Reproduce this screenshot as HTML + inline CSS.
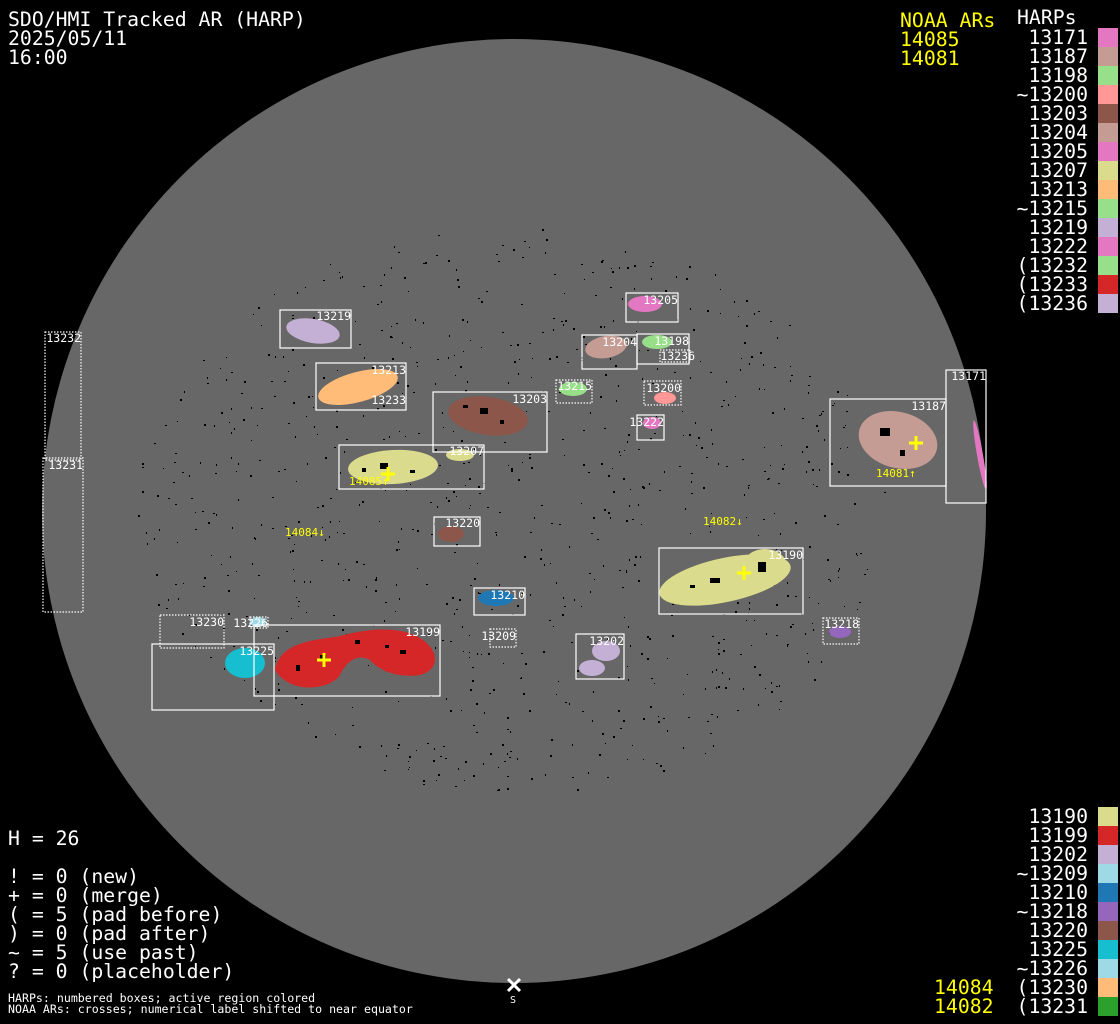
<!DOCTYPE html>
<html><head><meta charset="utf-8"><style>
html,body{margin:0;padding:0;background:#000;width:1120px;height:1024px;overflow:hidden}
svg{display:block}
text{font-family:"DejaVu Sans Mono","Liberation Mono",monospace}
.big{font-size:19.8px;fill:#fff}
.y{fill:#ffff00}
.lb{font-size:11.5px;fill:#fff;text-anchor:end}
.yl{font-size:11px;fill:#ffff00}
.bx{fill:none;stroke:#fff;stroke-width:1.2}
.dt{fill:none;stroke:#fff;stroke-width:1.2;stroke-dasharray:1.5 1.5}
.r{text-anchor:end}
.k{fill:#000}
</style></head><body>
<svg width="1120" height="1024" viewBox="0 0 1120 1024" xmlns="http://www.w3.org/2000/svg">
<rect width="1120" height="1024" fill="#000"/>
<circle cx="514" cy="511" r="472" fill="#676767"/>
<g id="specks" class="k"></g>

<!-- regions -->
<ellipse cx="313" cy="331" rx="27" ry="12" fill="#c5b0d5" transform="rotate(10 313 331)"/>
<ellipse cx="358" cy="387" rx="41" ry="15" fill="#ffbb78" transform="rotate(-15 358 387)"/>
<ellipse cx="488" cy="416" rx="40" ry="19" fill="#8c564b" transform="rotate(8 488 416)"/>
<ellipse cx="393" cy="467" rx="45" ry="17" fill="#dbdb8d" transform="rotate(-3 393 467)"/>
<ellipse cx="460" cy="455" rx="14" ry="6" fill="#dbdb8d"/>
<ellipse cx="573" cy="389" rx="14" ry="7" fill="#98df8a"/>
<ellipse cx="645" cy="304" rx="17" ry="8" fill="#e377c2"/>
<ellipse cx="606" cy="347" rx="21" ry="11" fill="#c49c94" transform="rotate(-10 606 347)"/>
<ellipse cx="657" cy="342" rx="15" ry="7" fill="#98df8a"/>
<ellipse cx="665" cy="398" rx="11" ry="6" fill="#ff9896"/>
<ellipse cx="652" cy="423" rx="9" ry="6" fill="#e377c2"/>
<ellipse cx="898" cy="440" rx="40" ry="28" fill="#c49c94" transform="rotate(15 898 440)"/>
<ellipse cx="980" cy="455" rx="3" ry="35" fill="#e377c2" transform="rotate(-10 980 455)"/>
<ellipse cx="451" cy="534" rx="13" ry="8" fill="#8c564b"/>
<ellipse cx="496" cy="598" rx="18" ry="8" fill="#1f77b4"/>
<ellipse cx="606" cy="651" rx="14" ry="10" fill="#c5b0d5"/>
<ellipse cx="592" cy="668" rx="13" ry="8" fill="#c5b0d5"/>
<ellipse cx="725" cy="580" rx="67" ry="22" fill="#dbdb8d" transform="rotate(-12 725 580)"/>
<ellipse cx="765" cy="566" rx="22" ry="17" fill="#dbdb8d"/>
<ellipse cx="840" cy="632" rx="11" ry="6" fill="#9467bd"/>
<ellipse cx="245" cy="663" rx="20" ry="15" fill="#17becf"/>
<ellipse cx="258" cy="622" rx="8" ry="5" fill="#9edae5"/>
<path d="M275 670 C280 640 320 640 340 636 C370 628 400 626 420 638 C440 650 440 670 420 675 C400 678 380 672 370 660 C355 652 345 665 340 675 C330 690 290 695 275 670 Z" fill="#d62728"/>
<g class="k">
<rect x="380" y="463" width="8" height="6"/><rect x="362" y="468" width="4" height="4"/><rect x="410" y="470" width="5" height="3"/>
<rect x="480" y="408" width="8" height="6"/><rect x="463" y="405" width="5" height="3"/><rect x="500" y="420" width="4" height="4"/>
<rect x="710" y="578" width="10" height="5"/><rect x="758" y="562" width="8" height="10"/><rect x="690" y="585" width="5" height="3"/>
<rect x="880" y="428" width="10" height="8"/><rect x="900" y="450" width="5" height="6"/>
<rect x="320" y="655" width="6" height="5"/><rect x="355" y="640" width="5" height="4"/><rect x="400" y="650" width="6" height="4"/>
<rect x="296" y="665" width="4" height="6"/><rect x="385" y="645" width="4" height="3"/>
</g>

<!-- boxes -->
<rect class="bx" x="280" y="310" width="71" height="38"/>
<rect class="bx" x="316" y="363" width="90" height="47"/>
<rect class="bx" x="433" y="392" width="114" height="60"/>
<rect class="bx" x="339" y="445" width="145" height="44"/>
<rect class="dt" x="556" y="380" width="36" height="23"/>
<rect class="bx" x="626" y="293" width="52" height="29"/>
<rect class="bx" x="582" y="335" width="55" height="34"/>
<rect class="bx" x="637" y="334" width="52" height="30"/>
<rect class="dt" x="660" y="350" width="30" height="12"/>
<rect class="dt" x="644" y="381" width="37" height="24"/>
<rect class="bx" x="637" y="415" width="27" height="25"/>
<rect class="bx" x="830" y="399" width="116" height="87"/>
<rect class="bx" x="946" y="370" width="40" height="133"/>
<rect class="dt" x="45" y="332" width="36" height="128"/>
<rect class="dt" x="43" y="458" width="40" height="154"/>
<rect class="bx" x="434" y="517" width="46" height="29"/>
<rect class="bx" x="474" y="588" width="51" height="27"/>
<rect class="dt" x="490" y="629" width="26" height="18"/>
<rect class="bx" x="576" y="634" width="48" height="45"/>
<rect class="bx" x="659" y="548" width="144" height="66"/>
<rect class="dt" x="823" y="618" width="36" height="26"/>
<rect class="dt" x="160" y="615" width="64" height="33"/>
<rect class="dt" x="250" y="617" width="18" height="11"/>
<rect class="bx" x="152" y="644" width="122" height="66"/>
<rect class="bx" x="254" y="625" width="186" height="71"/>

<text class="lb" x="351" y="320">13219</text>
<text class="lb" x="406" y="374">13213</text>
<text class="lb" x="406" y="404">13233</text>
<text class="lb" x="547" y="403">13203</text>
<text class="lb" x="484" y="455">13207</text>
<text class="lb" x="592" y="390">13215</text>
<text class="lb" x="678" y="304">13205</text>
<text class="lb" x="637" y="346">13204</text>
<text class="lb" x="689" y="345">13198</text>
<text class="lb" x="695" y="360">13236</text>
<text class="lb" x="681" y="392">13200</text>
<text class="lb" x="664" y="426">13222</text>
<text class="lb" x="946" y="410">13187</text>
<text class="lb" x="986" y="380">13171</text>
<text class="lb" x="81" y="342">13232</text>
<text class="lb" x="83" y="469">13231</text>
<text class="lb" x="480" y="527">13220</text>
<text class="lb" x="525" y="599">13210</text>
<text class="lb" x="516" y="640">13209</text>
<text class="lb" x="624" y="645">13202</text>
<text class="lb" x="803" y="559">13190</text>
<text class="lb" x="859" y="628">13218</text>
<text class="lb" x="224" y="626">13230</text>
<text class="lb" x="268" y="627">13226</text>
<text class="lb" x="274" y="655">13225</text>
<text class="lb" x="440" y="636">13199</text>

<g stroke="#ffff00" stroke-width="3">
<path d="M381 474h14M388 467v14"/>
<path d="M909 443h14M916 436v14"/>
<path d="M737 573h14M744 566v14"/>
<path d="M317 660h14M324 653v14"/>
</g>
<text class="yl" x="285" y="536">14084↓</text>
<text class="yl" x="703" y="525">14082↓</text>
<text class="yl" x="876" y="477">14081↑</text>
<text class="yl" x="349" y="485">14085↑</text>

<path d="M508 979l12 12M520 979l-12 12" stroke="#fff" stroke-width="3"/>
<text x="513" y="1003" font-size="10" fill="#fff" text-anchor="middle">S</text>

<text class="big" x="8" y="26">SDO/HMI Tracked AR (HARP)</text>
<text class="big" x="8" y="45">2025/05/11</text>
<text class="big" x="8" y="64">16:00</text>
<text class="big y" x="900" y="27">NOAA ARs</text>
<text class="big y" x="900" y="46">14085</text>
<text class="big y" x="900" y="65">14081</text>
<text class="big" x="1017" y="24">HARPs</text>

<g class="big r">
<text x="1088" y="44">13171</text><text x="1088" y="63">13187</text><text x="1088" y="82">13198</text>
<text x="1088" y="101">~13200</text><text x="1088" y="120">13203</text><text x="1088" y="139">13204</text>
<text x="1088" y="158">13205</text><text x="1088" y="177">13207</text><text x="1088" y="196">13213</text>
<text x="1088" y="215">~13215</text><text x="1088" y="234">13219</text><text x="1088" y="253">13222</text>
<text x="1088" y="272">(13232</text><text x="1088" y="291">(13233</text><text x="1088" y="310">(13236</text>
</g>
<g>
<rect x="1098" y="28" width="20" height="19" fill="#e377c2"/>
<rect x="1098" y="47" width="20" height="19" fill="#c49c94"/>
<rect x="1098" y="66" width="20" height="19" fill="#98df8a"/>
<rect x="1098" y="85" width="20" height="19" fill="#ff9896"/>
<rect x="1098" y="104" width="20" height="19" fill="#8c564b"/>
<rect x="1098" y="123" width="20" height="19" fill="#c49c94"/>
<rect x="1098" y="142" width="20" height="19" fill="#e377c2"/>
<rect x="1098" y="161" width="20" height="19" fill="#dbdb8d"/>
<rect x="1098" y="180" width="20" height="19" fill="#ffbb78"/>
<rect x="1098" y="199" width="20" height="19" fill="#98df8a"/>
<rect x="1098" y="218" width="20" height="19" fill="#c5b0d5"/>
<rect x="1098" y="237" width="20" height="19" fill="#e377c2"/>
<rect x="1098" y="256" width="20" height="19" fill="#98df8a"/>
<rect x="1098" y="275" width="20" height="19" fill="#d62728"/>
<rect x="1098" y="294" width="20" height="19" fill="#c5b0d5"/>
</g>

<g class="big r">
<text x="1088" y="823">13190</text><text x="1088" y="842">13199</text><text x="1088" y="861">13202</text>
<text x="1088" y="880">~13209</text><text x="1088" y="899">13210</text><text x="1088" y="918">~13218</text>
<text x="1088" y="937">13220</text><text x="1088" y="956">13225</text><text x="1088" y="975">~13226</text>
<text x="1088" y="994">(13230</text><text x="1088" y="1013">(13231</text>
</g>
<text class="big y" x="934" y="994">14084</text>
<text class="big y" x="934" y="1013">14082</text>
<g>
<rect x="1098" y="807" width="20" height="19" fill="#dbdb8d"/>
<rect x="1098" y="826" width="20" height="19" fill="#d62728"/>
<rect x="1098" y="845" width="20" height="19" fill="#c5b0d5"/>
<rect x="1098" y="864" width="20" height="19" fill="#9edae5"/>
<rect x="1098" y="883" width="20" height="19" fill="#1f77b4"/>
<rect x="1098" y="902" width="20" height="19" fill="#9467bd"/>
<rect x="1098" y="921" width="20" height="19" fill="#8c564b"/>
<rect x="1098" y="940" width="20" height="19" fill="#17becf"/>
<rect x="1098" y="959" width="20" height="19" fill="#9edae5"/>
<rect x="1098" y="978" width="20" height="19" fill="#ffbb78"/>
<rect x="1098" y="997" width="20" height="19" fill="#2ca02c"/>
</g>

<g class="big">
<text x="8" y="845">H = 26</text>
<text x="8" y="883">! = 0 (new)</text>
<text x="8" y="902">+ = 0 (merge)</text>
<text x="8" y="921">( = 5 (pad before)</text>
<text x="8" y="940">) = 0 (pad after)</text>
<text x="8" y="959">~ = 5 (use past)</text>
<text x="8" y="978">? = 0 (placeholder)</text>
</g>
<text x="8" y="1002" font-size="11.6" fill="#fff">HARPs: numbered boxes; active region colored</text>
<text x="8" y="1013" font-size="11.6" fill="#fff">NOAA ARs: crosses; numerical label shifted to near equator</text>
</svg>
<script>
(function(){
var g=document.getElementById('specks'),s=12345,h='';
function r(){s=(s*1103515245+12345)%2147483648;return s/2147483648;}
for(var i=0;i<900;i++){
 var a=r()*6.283,d=Math.sqrt(r())*0.8*472;
 var x=514+Math.cos(a)*d,y=511+Math.sin(a)*d*0.75;
 var w=1+Math.floor(r()*2),hh=1+Math.floor(r()*2);
 h+='<rect x="'+x.toFixed(0)+'" y="'+y.toFixed(0)+'" width="'+w+'" height="'+hh+'"/>';
}
g.innerHTML=h;
})();
</script>
</body></html>
